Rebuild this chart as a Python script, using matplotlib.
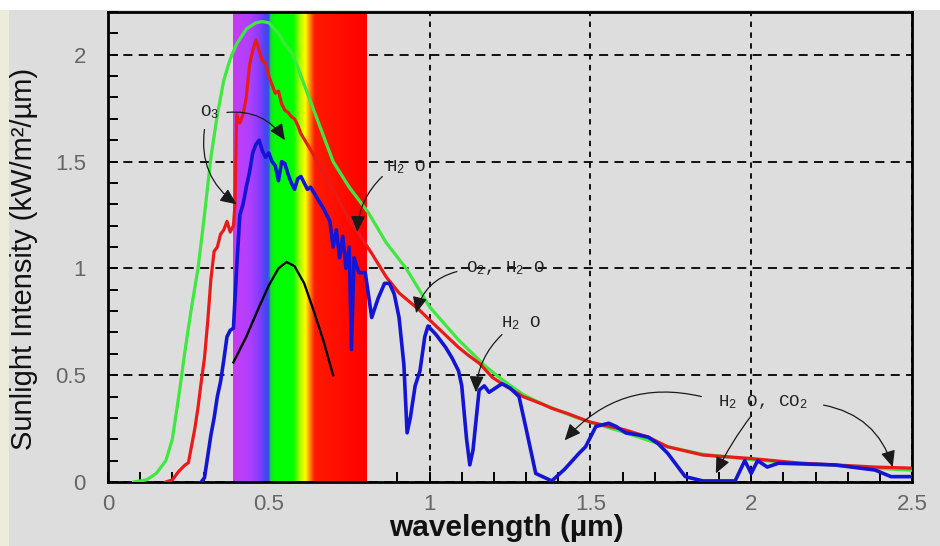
import numpy as np
import matplotlib
matplotlib.use("Agg")
import matplotlib.pyplot as plt
from matplotlib.colors import LinearSegmentedColormap
from matplotlib.patches import Rectangle

plt.rcParams["mathtext.fontset"] = "custom"
plt.rcParams["mathtext.rm"] = "Liberation Mono"
plt.rcParams["mathtext.it"] = "Liberation Mono"
plt.rcParams["mathtext.bf"] = "Liberation Mono:bold"

# --- data (wavelength in um, intensity in kW/m2/um) ---
# blackbody curve (green)
bb_wl = [0.08, 0.12, 0.15, 0.18, 0.20, 0.22, 0.24, 0.26, 0.28, 0.30, 0.32, 0.34,
         0.36, 0.38, 0.40, 0.43, 0.46, 0.48, 0.50, 0.53, 0.55, 0.575, 0.60, 0.65,
         0.70, 0.75, 0.81, 0.865, 0.927, 1.00, 1.09, 1.175, 1.225, 1.29, 1.35,
         1.40, 1.45, 1.50, 1.60, 1.74, 1.85, 2.00, 2.13, 2.26, 2.385, 2.50]
bb_val = [0.00, 0.01, 0.04, 0.10, 0.20, 0.40, 0.62, 0.82, 1.00, 1.25, 1.52, 1.72,
          1.88, 1.98, 2.05, 2.12, 2.15, 2.155, 2.15, 2.10, 2.05, 2.00, 1.90, 1.70,
          1.50, 1.38, 1.26, 1.12, 1.00, 0.82, 0.665, 0.54, 0.48, 0.41, 0.365,
          0.335, 0.305, 0.28, 0.235, 0.165, 0.13, 0.105, 0.09, 0.078, 0.065, 0.055]

# top of atmosphere spectrum (red)
toa_wl = [0.18, 0.20, 0.22, 0.24, 0.25, 0.26, 0.27, 0.28, 0.29, 0.30, 0.31, 0.32,
          0.33, 0.34, 0.35, 0.36, 0.37, 0.38, 0.39, 0.395, 0.40, 0.41, 0.42, 0.43,
          0.44, 0.45, 0.46, 0.47, 0.48, 0.49, 0.50, 0.51, 0.52, 0.53, 0.54, 0.55,
          0.56, 0.57, 0.58, 0.59, 0.60, 0.62, 0.64, 0.66, 0.70, 0.75, 0.82, 0.865,
          0.905, 0.968, 1.02, 1.09, 1.123, 1.155, 1.195, 1.225, 1.29, 1.35, 1.38,
          1.43, 1.50, 1.61, 1.68, 1.74, 1.85, 2.00, 2.155, 2.26, 2.385, 2.50]
toa_val = [0.00, 0.01, 0.05, 0.08, 0.09, 0.17, 0.25, 0.35, 0.47, 0.58, 0.75, 0.95,
           1.08, 1.10, 1.16, 1.18, 1.22, 1.17, 1.20, 1.30, 1.72, 1.68, 1.72, 1.80,
           1.95, 2.02, 2.07, 2.02, 1.97, 1.96, 1.90, 1.86, 1.82, 1.83, 1.77, 1.74,
           1.73, 1.71, 1.70, 1.67, 1.63, 1.58, 1.53, 1.47, 1.37, 1.23, 1.07, 0.96,
           0.885, 0.805, 0.73, 0.63, 0.59, 0.555, 0.49, 0.46, 0.40, 0.365, 0.345,
           0.32, 0.28, 0.243, 0.21, 0.165, 0.126, 0.11, 0.088, 0.08, 0.07, 0.065]

# sea level spectrum (blue)
sea_wl = [0.29, 0.30, 0.31, 0.32, 0.33, 0.34, 0.35, 0.36, 0.37, 0.38, 0.39, 0.40,
          0.41, 0.42, 0.43, 0.44, 0.45, 0.46, 0.47, 0.48, 0.49, 0.50, 0.51, 0.52,
          0.53, 0.54, 0.55, 0.56, 0.57, 0.58, 0.59, 0.60, 0.61, 0.62, 0.63, 0.65,
          0.67, 0.69, 0.70, 0.71, 0.72, 0.73, 0.74, 0.75, 0.757, 0.765, 0.78, 0.80,
          0.82, 0.84, 0.86, 0.875, 0.89, 0.905, 0.92, 0.93, 0.94, 0.955, 0.97,
          0.985, 0.995, 1.02, 1.05, 1.07, 1.09, 1.10, 1.115, 1.125, 1.135, 1.154,
          1.17, 1.185, 1.225, 1.25, 1.278, 1.30, 1.33, 1.38, 1.42, 1.465, 1.485,
          1.517, 1.557, 1.58, 1.61, 1.65, 1.68, 1.71, 1.74, 1.795, 1.85, 1.95,
          1.98, 2.00, 2.02, 2.05, 2.085, 2.26, 2.385, 2.435, 2.50]
sea_val = [0.00, 0.02, 0.12, 0.22, 0.30, 0.40, 0.47, 0.57, 0.68, 0.71, 0.72, 1.00,
           1.25, 1.30, 1.38, 1.45, 1.54, 1.58, 1.60, 1.55, 1.52, 1.54, 1.50, 1.48,
           1.41, 1.50, 1.49, 1.44, 1.40, 1.37, 1.42, 1.43, 1.40, 1.37, 1.38, 1.33,
           1.28, 1.22, 1.10, 1.18, 1.05, 1.15, 1.00, 1.10, 0.62, 1.05, 0.98, 0.98,
           0.77, 0.86, 0.93, 0.93, 0.88, 0.77, 0.55, 0.23, 0.30, 0.45, 0.52,
           0.68, 0.73, 0.69, 0.63, 0.58, 0.52, 0.45, 0.20, 0.08, 0.15, 0.43,
           0.45, 0.42, 0.46, 0.44, 0.40, 0.25, 0.04, 0.005, 0.06, 0.135, 0.165,
           0.26, 0.275, 0.26, 0.23, 0.22, 0.21, 0.18, 0.135, 0.025, 0.005, 0.005,
           0.10, 0.04, 0.10, 0.07, 0.088, 0.08, 0.056, 0.025, 0.025]

# eye response curve (black)
eye_wl = [0.39, 0.43, 0.47, 0.50, 0.53, 0.555, 0.58, 0.61, 0.64, 0.67, 0.70]
eye_val = [0.56, 0.68, 0.82, 0.92, 1.00, 1.03, 1.01, 0.93, 0.80, 0.66, 0.50]

# visible band
visible_lo, visible_hi = 0.39, 0.806

# absorption labels: (text, text position, [arrow tails], [arrow heads], [curvature])
labels = [
    (r"O$_3$", (0.285, 1.73), [(0.37, 1.73), (0.30, 1.65)], [(0.55, 1.60), (0.40, 1.30)], [-0.3, 0.3]),
    (r"H$_2$ O", (0.865, 1.475), [(0.853, 1.43)], [(0.775, 1.17)], [0.2]),
    (r"O$_2$, H$_2$ O", (1.113, 1.0), [(1.085, 0.985)], [(0.958, 0.79)], [0.3]),
    (r"H$_2$ O", (1.222, 0.745), [(1.225, 0.69)], [(1.144, 0.42)], [0.2]),
    (r"H$_2$ O, CO$_2$", (1.898, 0.375), [(1.845, 0.40), (2.0, 0.31), (2.225, 0.36)],
     [(1.42, 0.195), (1.89, 0.04), (2.44, 0.07)], [0.3, 0.05, -0.3]),
]

x_ticks = [0, 0.5, 1, 1.5, 2, 2.5]
x_ticklabels = ["0", "0.5", "1", "1.5", "2", "2.5"]
y_ticks = [0, 0.5, 1, 1.5, 2]
y_ticklabels = ["0", "0.5", "1", "1.5", "2"]

bg = "#dddddd"
fig = plt.figure(figsize=(9.4, 5.46), dpi=100, facecolor=bg)
fig.patches.append(Rectangle((0, 1 - 10 / 546), 1, 10 / 546, transform=fig.transFigure,
                             facecolor="white", edgecolor="none", zorder=-1))
fig.patches.append(Rectangle((0, 0), 9 / 940, 1 - 10 / 546, transform=fig.transFigure,
                             facecolor="#ecebdc", edgecolor="none", zorder=-1))
ax = fig.add_axes([108 / 940, 1 - 482 / 546, 804 / 940, 470 / 546])
ax.set_facecolor(bg)

# rainbow band for the visible range
band_cmap = LinearSegmentedColormap.from_list("visible", [
    (0.00, "#c43cf5"), (0.12, "#b040ff"), (0.19, "#8a3cff"), (0.24, "#4a44f5"),
    (0.265, "#3050ee"), (0.28, "#18e028"), (0.31, "#00ff00"), (0.45, "#00ff00"),
    (0.50, "#aaff00"), (0.54, "#ffff00"), (0.57, "#ff9900"), (0.61, "#ff1a00"),
    (1.00, "#ff0000")])
ax.imshow(np.linspace(0, 1, 400)[None, :], cmap=band_cmap, aspect="auto",
          extent=(visible_lo, visible_hi, 0, 2.2), zorder=1, interpolation="bilinear")

ax.plot(bb_wl, bb_val, color="#3ee83e", lw=2.3, zorder=3)
ax.plot(toa_wl, toa_val, color="#ea1a1a", lw=2.3, zorder=4)
ax.plot(sea_wl, sea_val, color="#1414d4", lw=2.6, zorder=5)
ax.plot(eye_wl, eye_val, color="black", lw=1.7, zorder=6)

for txt, pos, tails, heads, rads in labels:
    ax.text(pos[0], pos[1], txt, family="Liberation Mono", fontsize=12.5, color="#222222",
            va="center", ha="left", zorder=7)
    for tail, head, rad in zip(tails, heads, rads):
        ax.annotate("", xy=head, xytext=tail, zorder=7,
                    arrowprops=dict(arrowstyle="-|>,head_length=0.9,head_width=0.4",
                                    connectionstyle=f"arc3,rad={rad}",
                                    color="#1a1a1a", lw=0.9, mutation_scale=11,
                                    shrinkA=0, shrinkB=0))

ax.set_xlim(0, 2.5)
ax.set_ylim(0, 2.2)
ax.set_xticks(x_ticks)
ax.set_xticklabels(x_ticklabels)
ax.set_yticks(y_ticks)
ax.set_yticklabels(y_ticklabels)
ax.set_xticks(np.arange(0, 2.51, 0.1), minor=True)
ax.set_yticks(np.arange(0, 2.21, 0.1), minor=True)
ax.tick_params(which="both", direction="in", length=7, width=1.4, color="black",
               top=False, right=False)
ax.tick_params(axis="x", which="major", labelsize=16, labelcolor="#666666", pad=9)
ax.tick_params(axis="y", which="major", labelsize=16, labelcolor="#666666", pad=16)
for lab in ax.get_xticklabels() + ax.get_yticklabels():
    lab.set_family("Liberation Sans")

ax.set_axisbelow(True)
ax.grid(axis="y", which="major", color="black", lw=1.3, linestyle=(0, (5, 3.5)))
ax.grid(axis="x", which="major", color="black", lw=1.3, linestyle=(0, (3, 3)))
for sp in ax.spines.values():
    sp.set_linewidth(2)
    sp.set_color("black")

ax.set_xlabel("wavelength (µm)", family="Liberation Sans", fontsize=21.5,
              fontweight="bold", color="#111111", va="top")
ax.xaxis.set_label_coords(0.495, -0.069)
ax.set_ylabel("Sunlight Intensity (kW/m²/µm)", family="Liberation Sans", fontsize=21,
              color="#111111", va="center")
ax.yaxis.set_label_coords(-0.104, 0.474)

fig.savefig("out.png", dpi=100, facecolor=bg)
